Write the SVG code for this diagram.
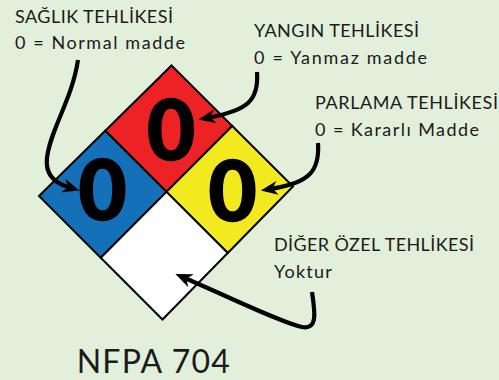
<svg xmlns="http://www.w3.org/2000/svg" width="499" height="380" viewBox="0 0 499 380">
<style>
.lbl{font-family:Lato,"Liberation Sans",Arial,sans-serif;font-size:18px;fill:#1b1b1b}
.big{font-family:Lato,"Liberation Sans",Arial,sans-serif;font-size:83px;font-weight:900;fill:#000;stroke:#000;stroke-width:1.6;text-anchor:middle}
.sq{stroke:#000;stroke-width:2;stroke-linejoin:miter}
.arr{fill:none;stroke:#000;stroke-width:4.2;marker-end:url(#ah)}
</style>
<defs>
<marker id="ah" markerUnits="userSpaceOnUse" markerWidth="20" markerHeight="16" viewBox="-6 -8 20 16" refX="0" refY="0" orient="auto" overflow="visible">
<path d="M-5,-7 L12,0 L-5,7 L0,0 z" fill="#000"/>
</marker>
</defs>
<rect x="0" y="0" width="499" height="380" fill="#E2EFDA"/>
<g id="diamond">
<g id="node-red"><polygon class="sq" fill="#ED2224" points="171.5,65.5 232.25,126 166.5,191.9 105.25,130.75"/><text class="big" x="171" y="160">0</text></g>
<g id="node-blue"><polygon class="sq" fill="#1570BA" points="105.25,130.75 166.5,191.9 100.75,257.75 39,196"/><text class="big" x="102.5" y="220">0</text></g>
<g id="node-yellow"><polygon class="sq" fill="#F2EA1F" points="232.25,126 293,186.5 227.75,253 166.5,191.9"/><text class="big" x="232.5" y="221">0</text></g>
<g id="node-white"><polygon class="sq" fill="#FFFFFF" points="166.5,191.9 227.75,253 162.5,319.5 100.75,257.75"/></g>
</g>
<g id="labels">
<g id="label-saglik"><text class="lbl" x="15" y="22.7" textLength="158" lengthAdjust="spacing">SAĞLIK TEHLİKESİ</text><text class="lbl" x="15" y="48.5" textLength="170" lengthAdjust="spacing">0 = Normal madde</text></g>
<g id="label-yangin"><text class="lbl" x="254" y="37.3" textLength="165" lengthAdjust="spacing">YANGIN TEHLİKESİ</text><text class="lbl" x="254" y="64" textLength="173" lengthAdjust="spacing">0 = Yanmaz madde</text></g>
<g id="label-parlama"><text class="lbl" x="315" y="109" textLength="183" lengthAdjust="spacing">PARLAMA TEHLİKESİ</text><text class="lbl" x="315" y="136" textLength="164" lengthAdjust="spacing">0 = Kararlı Madde</text></g>
<g id="label-diger"><text class="lbl" x="274" y="251" textLength="200" lengthAdjust="spacing">DİĞER ÖZEL TEHLİKESİ</text><text class="lbl" x="274" y="278.3" textLength="57.7" lengthAdjust="spacing">Yoktur</text></g>
<g id="title"><text x="76.7" y="372.5" font-family="Lato,'Liberation Sans',Arial,sans-serif" font-size="32" fill="#1b1b1b" textLength="153" lengthAdjust="spacing">NFPA 704</text></g>
</g>
<g id="connectors">
<path class="arr" d="M78,60 C72,100 50,130 47,158 C45,175 55,183 68,187"/>
<path class="arr" d="M257,72 C259,100 248,110 210.2,117.3"/>
<path class="arr" d="M318,143 C320,172 308,183 272.6,188.6"/>
<path class="arr" d="M312,292 C315,312 318,330 302,327 C285,324 240,302 186.4,278.8"/>
</g>
</svg>
